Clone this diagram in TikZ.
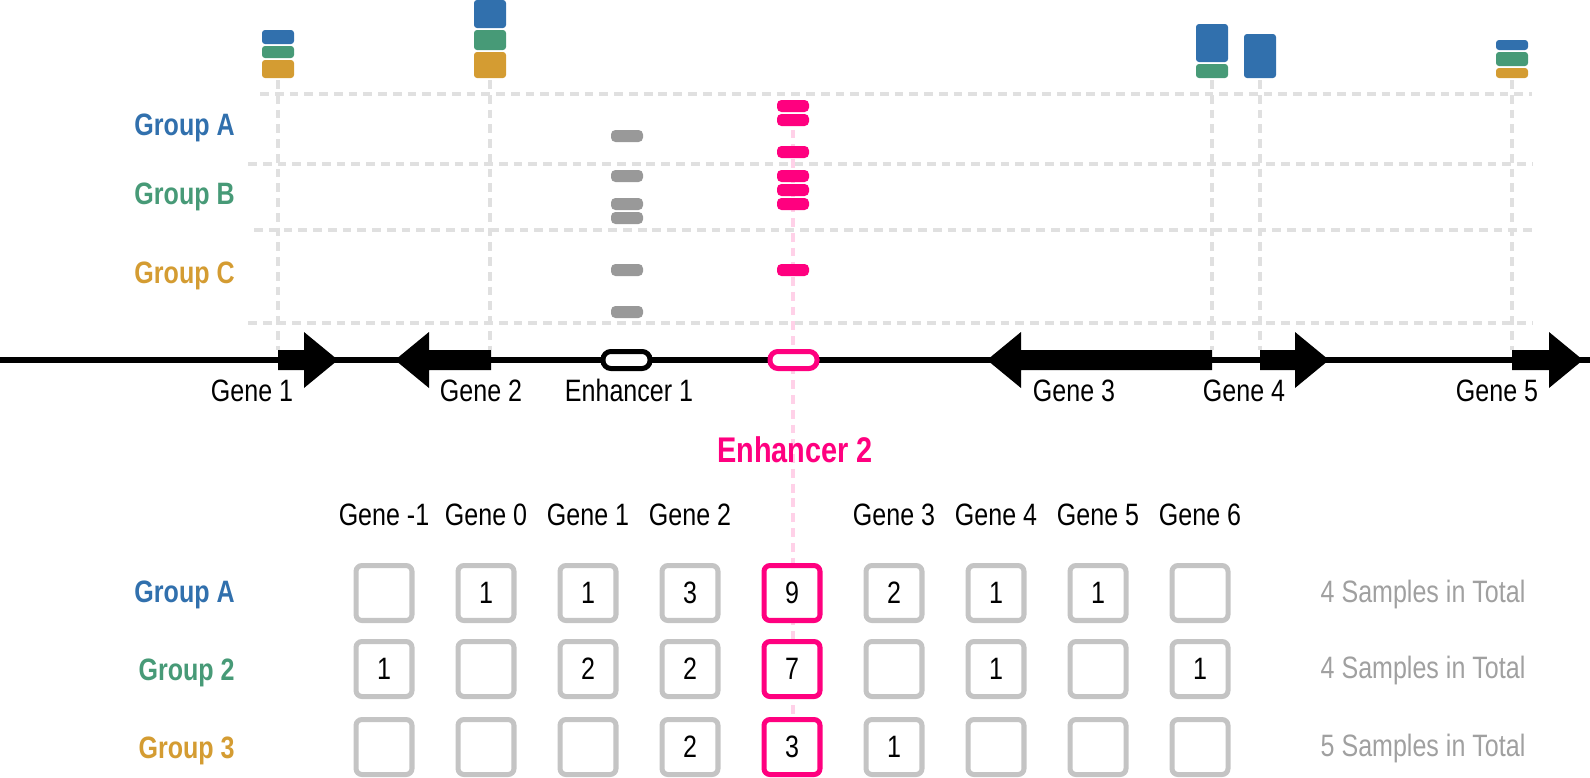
\documentclass[tikz,border=0pt]{standalone}
\usepackage{fontspec}
\setmainfont{Liberation Sans}[FakeStretch=0.81]
\usepackage{xcolor}
\usepackage{tikz}
\definecolor{grpblue}{RGB}{49,112,173}
\definecolor{grpgreen}{RGB}{71,154,119}
\definecolor{grporange}{RGB}{212,156,50}
\definecolor{enhpink}{RGB}{255,0,127}
\definecolor{guidegray}{RGB}{224,224,224}
\definecolor{boxgray}{RGB}{196,196,196}
\definecolor{markgray}{RGB}{153,153,153}
\definecolor{totalgray}{RGB}{160,160,160}

\tikzset{
  txt/.style={font=\fontsize{17.6}{21}\selectfont, inner sep=0pt},
  grplabel/.style={txt, font=\fontsize{17.6}{21}\selectfont\bfseries, anchor=base east},
  guide/.style={guidegray, line width=2.1pt, dash pattern=on 5pt off 3.4pt},
  pinkguide/.style={guide, draw=enhpink!18},
  cell/.style={txt, draw=#1, fill=white, line width=2.85pt, rounded corners=3.4pt,
    minimum width=1.12cm, minimum height=1.1cm},
  enhbox/.style={draw=#1, fill=white, line width=2.85pt, rounded corners=4.5pt}
}

\begin{document}
\begin{tikzpicture}[x=0.02cm, y=-0.02cm]
\useasboundingbox (0,0) rectangle (1590,778);
% guide lines
\foreach \yy/\xs in {94/260, 164/248, 230/254, 323/248}
  \draw[guide] (\xs,\yy) -- (1532,\yy);
\foreach \xx in {278,490,1212,1260,1512}
  \draw[guide] (\xx,80) -- (\xx,350);
\draw[pinkguide] (793,100) -- (793,778);
% stacked bars on top
\foreach \xx/\ya/\yb/\col in {278/30/44/grpblue, 278/46/58/grpgreen, 278/60/78/grporange,
    490/0/28/grpblue, 490/30/50/grpgreen, 490/52/78/grporange,
    1212/24/62/grpblue, 1212/64/78/grpgreen, 1260/34/78/grpblue,
    1512/40/50/grpblue, 1512/52/66/grpgreen, 1512/68/78/grporange}
  \fill[\col, rounded corners=1.7pt] ({\xx-16},\ya) rectangle ({\xx+16},\yb);
% group labels
\node[grplabel, text=grpblue] (ga) at (235,135) {Group A};
\node[grplabel, text=grpgreen] (gb) at (235,204) {Group B};
\node[grplabel, text=grporange] (gc) at (235,283) {Group C};
% marks per enhancer
\foreach \yy in {136,176,204,218,270,312}
  \fill[markgray, rounded corners=2.5pt] (611,{\yy-6}) rectangle (643,{\yy+6});
\foreach \yy in {106,120,152,176,190,204,270}
  \fill[enhpink, rounded corners=2.5pt] (777,{\yy-6}) rectangle (809,{\yy+6});
% chromosome
\draw[line width=3.4pt] (0,360) -- (1590,360);
% gene 1
\fill (278,350) -- (304,350) -- (304,332) -- (338,360) -- (304,388) -- (304,370) -- (278,370) -- cycle;
% gene 2
\fill (491,350) -- (429,350) -- (429,332) -- (395,360) -- (429,388) -- (429,370) -- (491,370) -- cycle;
% gene 3
\fill (1212,350) -- (1021,350) -- (1021,332) -- (987,360) -- (1021,388) -- (1021,370) -- (1212,370) -- cycle;
% gene 4
\fill (1260,350) -- (1295,350) -- (1295,332) -- (1329,360) -- (1295,388) -- (1295,370) -- (1260,370) -- cycle;
% gene 5
\fill (1512,350) -- (1549,350) -- (1549,332) -- (1583,360) -- (1549,388) -- (1549,370) -- (1512,370) -- cycle;
% enhancers
\draw[enhbox=black] (603,351.5) rectangle (650,368.5);
\draw[enhbox=enhpink] (770,351.5) rectangle (817,368.5);
% track labels
\node[txt, anchor=base] (g1) at (252,401) {Gene 1};
\node[txt, anchor=base] (g2) at (481,401) {Gene 2};
\node[txt, anchor=base] (e1) at (629,401) {Enhancer 1};
\node[txt, anchor=base] (g3) at (1074,401) {Gene 3};
\node[txt, anchor=base] (g4) at (1244,401) {Gene 4};
\node[txt, anchor=base] (g5) at (1497,401) {Gene 5};
\node[txt, anchor=base, text=enhpink, font=\fontsize{20.3}{24}\selectfont\bfseries] (e2) at (795,462) {Enhancer 2};
% table header
\foreach \cc/\g in {1/-1,2/0,3/1,4/2,6/3,7/4,8/5,9/6}
  \node[txt, anchor=base] (h\cc) at ({282+102*\cc},525) {Gene \g};
% table
\foreach \rr/\yy/\vals in {1/593/{{},1,1,3,9,2,1,1,{}}, 2/669/{1,{},2,2,7,{},1,{},1}, 3/747/{{},{},{},2,3,1,{},{},{}}}{
  \foreach \v [count=\cc] in \vals {
    \ifnum\cc=5 \def\bc{enhpink}\else\def\bc{boxgray}\fi
    \node[cell=\bc] (c\rr\cc) at ({282+102*\cc},\yy) {\v};
  }
}
% row labels
\node[grplabel, text=grpblue] (ra) at (235,602) {Group A};
\node[grplabel, text=grpgreen] (r2) at (235,680) {Group 2};
\node[grplabel, text=grporange] (r3) at (235,758) {Group 3};
\node[txt, anchor=base, text=totalgray] (t1) at (1423,602) {4 Samples in Total};
\node[txt, anchor=base, text=totalgray] (t2) at (1423,678) {4 Samples in Total};
\node[txt, anchor=base, text=totalgray] (t3) at (1423,756) {5 Samples in Total};
\end{tikzpicture}
\end{document}
